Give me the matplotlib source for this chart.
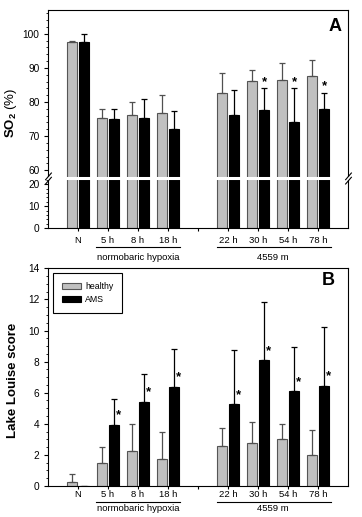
import numpy as np
import matplotlib
matplotlib.use('Agg')
import matplotlib.pyplot as plt
from matplotlib.path import Path

plt.rcParams['font.family'] = ['Liberation Sans', 'DejaVu Sans']
plt.rcParams['mathtext.fontset'] = 'custom'
plt.rcParams['mathtext.rm'] = 'Liberation Sans'
plt.rcParams['mathtext.bf'] = 'Liberation Sans:bold'

# data
xpos = [0, 1, 2, 3, 5, 6, 7, 8]
tick_labels = ['N', '5 h', '8 h', '18 h', '', '22 h', '30 h', '54 h', '78 h']

so2_healthy = [97.5, 75.3, 76.1, 76.7, 82.6, 86.2, 86.4, 87.6]
so2_healthy_sd = [0.5, 2.6, 3.8, 5.3, 5.9, 3.3, 5.0, 4.7]
so2_ams = [97.5, 74.9, 75.4, 72.2, 76.1, 77.7, 74.1, 77.9]
so2_ams_sd = [2.4, 3.0, 5.6, 5.1, 7.5, 6.3, 9.9, 4.7]
so2_sig = [0, 0, 0, 0, 0, 1, 1, 1]

lls_healthy = [0.24, 1.46, 2.25, 1.74, 2.59, 2.79, 3.0, 1.97]
lls_healthy_sd = [0.51, 1.03, 1.72, 1.71, 1.16, 1.31, 1.01, 1.63]
lls_ams = [0, 3.92, 5.40, 6.39, 5.25, 8.08, 6.09, 6.43]
lls_ams_sd = [np.nan, 1.65, 1.78, 2.40, 3.50, 3.78, 2.83, 3.80]
lls_sig = [0, 1, 1, 1, 1, 1, 1, 1]

# broken y axis for panel A (0-22.7 and 57.6-107)
LO, HI = 22.66, 57.56
K_LO, K_HI = 2.18, 3.4


def fwd(y):
    y = np.asarray(y, dtype=float)
    return np.where(y <= LO, y * K_LO,
                    np.where(y >= HI, LO * K_LO + (y - HI) * K_HI, LO * K_LO))


def inv(p):
    p = np.asarray(p, dtype=float)
    return np.where(p <= LO * K_LO, p / K_LO, HI + (p - LO * K_LO) / K_HI)


GRAY = '#c0c0c0'


def draw_bars(ax, healthy, hsd, ams, asd):
    xs = np.array(xpos, dtype=float)
    w = 0.35
    ax.bar(xs - 0.2, healthy, w, color=GRAY, edgecolor='#555555', lw=0.8,
           label='healthy', zorder=2)
    ax.bar(xs + 0.2, ams, w, color='black', edgecolor='black', lw=0.8,
           label='AMS', zorder=2)
    ax.errorbar(xs - 0.2, healthy, yerr=[np.zeros(len(xs)), hsd], fmt='none',
                ecolor='#505050', elinewidth=0.9, capsize=2.2, capthick=0.9, zorder=3)
    ax.errorbar(xs + 0.2, ams, yerr=[np.zeros(len(xs)), asd], fmt='none',
                ecolor='black', elinewidth=0.9, capsize=2.2, capthick=0.9, zorder=3)
    ax.set_xlim(-1, 9)
    ax.set_xticks(range(9))
    ax.set_xticklabels(tick_labels, fontsize=6.8)
    for s in ax.spines.values():
        s.set_linewidth(0.8)


def group_labels(ax, line_y, text_y):
    trans = ax.get_xaxis_transform()
    for x0, x1, xc, name in [(0.6, 3.4, 2.0, 'normobaric hypoxia'),
                             (4.65, 8.45, 6.5, '4559 m')]:
        ax.plot([x0, x1], [line_y, line_y], color='black', lw=0.8,
                transform=trans, clip_on=False)
        ax.text(xc, text_y, name, transform=trans, ha='center', va='center',
                fontsize=6.8)


def star(ax, x, y, dy_pt, fs=9.5):
    ax.annotate('*', xy=(x, y), xytext=(0, dy_pt - 0.57 * fs),
                textcoords='offset points', ha='center', va='baseline',
                fontsize=fs, fontweight='bold')


fig = plt.figure(figsize=(3.62, 5.17), dpi=100)
axA = fig.add_axes([0.1326, 0.559, 0.8287, 0.4217])
axB = fig.add_axes([0.1326, 0.06, 0.8287, 0.421])

# ---- panel A
axA.set_yscale('function', functions=(fwd, inv))
draw_bars(axA, so2_healthy, so2_healthy_sd, so2_ams, so2_ams_sd)
axA.set_ylim(0, 107)
axA.set_yticks([0, 10, 20, 60, 70, 80, 90, 100])
minorA = [v for v in list(range(2, 23, 2)) + list(range(62, 107, 2)) if v % 10]
axA.set_yticks(minorA, minor=True)
axA.tick_params(axis='y', labelsize=7.3, length=3, width=0.8, pad=3.2)
axA.tick_params(axis='y', which='minor', length=1.6, width=0.6)
axA.tick_params(axis='x', length=2.5, width=0.8, pad=3.2)
axA.set_ylabel(r'$\mathbf{SO_2}$ (%)', fontsize=9.5)
axA.yaxis.set_label_coords(-0.097, 0.53)
for i, s in enumerate(so2_sig):
    if s:
        star(axA, xpos[i] + 0.22, so2_ams[i] + so2_ams_sd[i], 8)
axA.text(0.957, 0.923, 'A', transform=axA.transAxes, ha='center', va='center',
         fontsize=13, fontweight='bold')

# break of the axis
axA.axhline(LO, xmin=-0.012, xmax=1.012, color='white', lw=2.2, zorder=4,
            clip_on=False)
brk = Path([(-0.6, -1.1), (0.6, 0.3), (-0.6, -0.3), (0.6, 1.1)],
           [Path.MOVETO, Path.LINETO, Path.MOVETO, Path.LINETO])
axA.plot([0, 1], [LO, LO], transform=axA.get_yaxis_transform(), marker=brk,
         markersize=8.5, mew=0.8, color='black', linestyle='none', zorder=5,
         clip_on=False)
group_labels(axA, -0.089, -0.135)

# ---- panel B
draw_bars(axB, lls_healthy, lls_healthy_sd, lls_ams, lls_ams_sd)
axB.set_ylim(0, 14)
axB.set_yticks(range(0, 15, 2))
axB.set_yticks(np.arange(0.5, 14, 0.5), minor=True)
axB.tick_params(axis='y', labelsize=7.3, length=3, width=0.8, pad=3.2)
axB.tick_params(axis='y', which='minor', length=1.6, width=0.6)
axB.tick_params(axis='x', length=2.5, width=0.8, pad=0.6)
axB.set_ylabel('Lake Louise score', fontsize=9.5, fontweight='bold')
axB.yaxis.set_label_coords(-0.097, 0.487)
for i, s in enumerate(lls_sig):
    if s:
        star(axB, xpos[i] + 0.34, lls_ams[i], 10)
axB.text(0.934, 0.944, 'B', transform=axB.transAxes, ha='center', va='center',
         fontsize=13, fontweight='bold')
leg = axB.legend(loc='upper left', bbox_to_anchor=(0.018, 0.977), borderaxespad=0,
                 fontsize=6.3, fancybox=False, edgecolor='black', framealpha=1,
                 handlelength=2.2, handleheight=0.8, handletextpad=0.4,
                 labelspacing=0.45, borderpad=1.0)
leg.get_frame().set_linewidth(0.8)
group_labels(axB, -0.072, -0.102)

fig.savefig('out.png', dpi=100)
